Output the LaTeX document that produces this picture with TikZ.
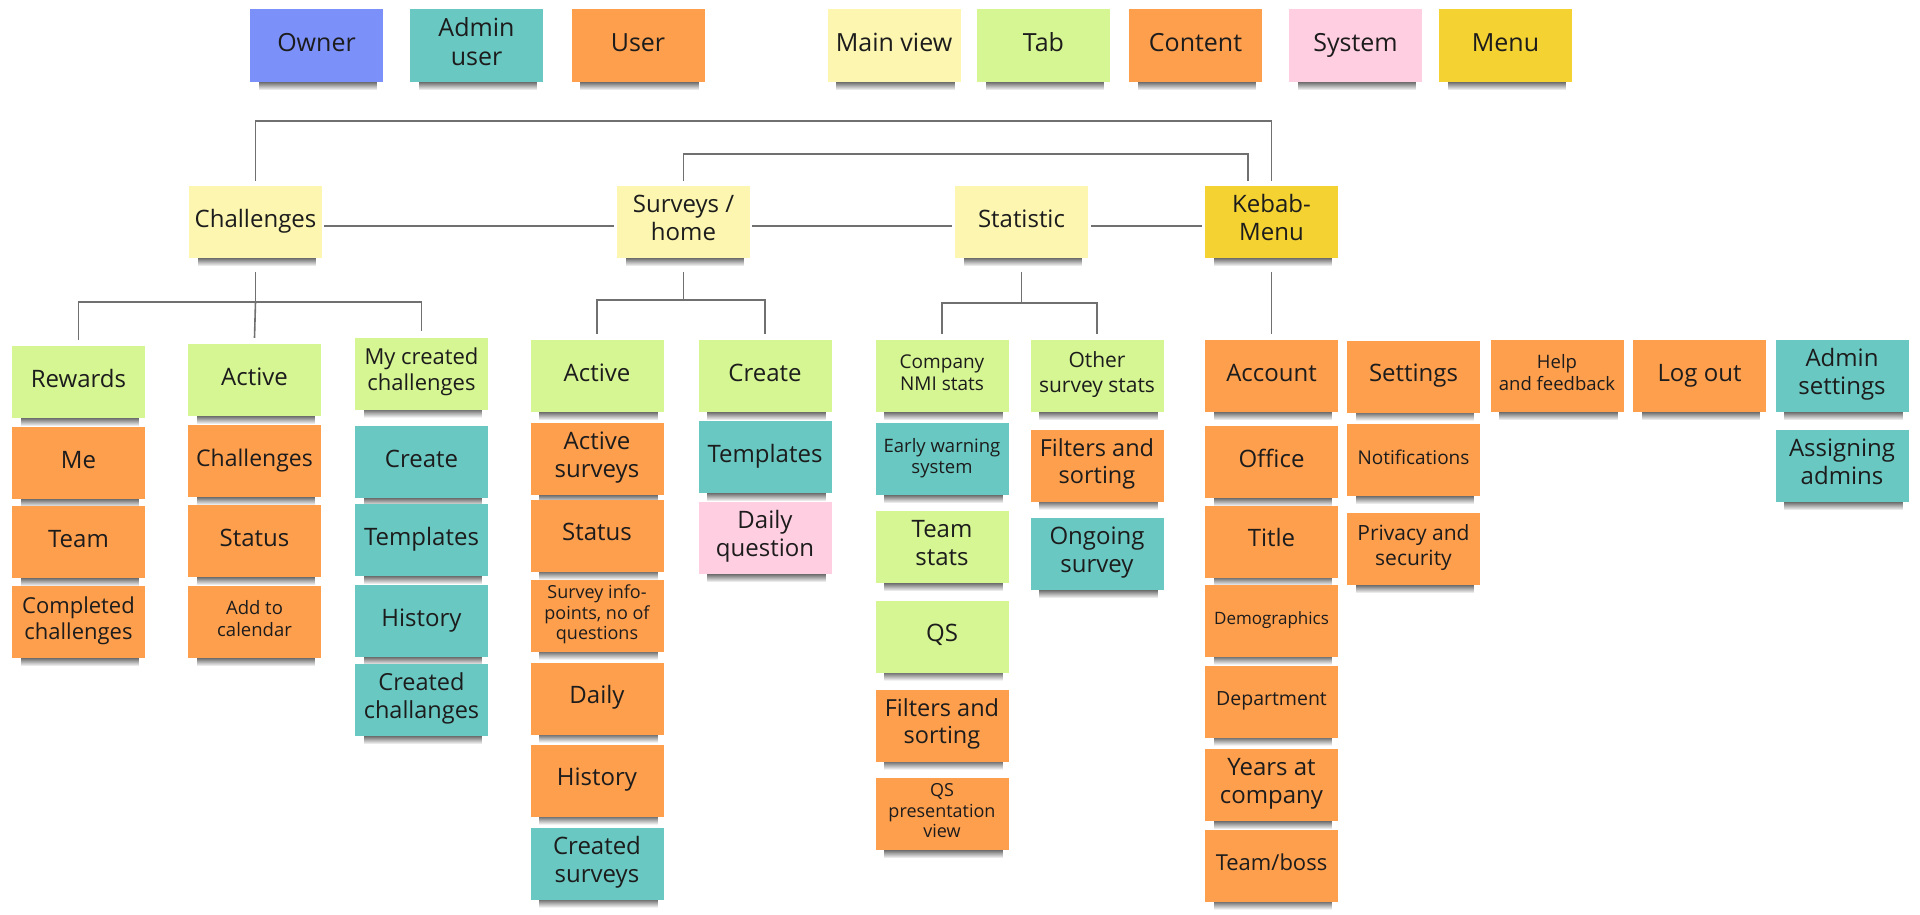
\documentclass[tikz,border=0pt]{standalone}
\usepackage{fontspec}
\setmainfont{Open Sans}
\usetikzlibrary{fadings,backgrounds}
\definecolor{cOrange}{HTML}{FE9F4E}
\definecolor{cTeal}{HTML}{6AC8C2}
\definecolor{cGreen}{HTML}{D6F593}
\definecolor{cMain}{HTML}{FCF6B1}
\definecolor{cMenu}{HTML}{F4D232}
\definecolor{cPink}{HTML}{FFCEE0}
\definecolor{cBlue}{HTML}{7C90FA}
\definecolor{cLine}{HTML}{707070}
\definecolor{cText}{HTML}{1C1C1C}
\tikzfading[name=shfade, top color=transparent!30, bottom color=transparent!100]
\tikzset{
  note/.style={rectangle, minimum width=133pt, minimum height=72pt, inner sep=1pt,
    align=center, font=\fontsize{24}{28}\selectfont, text=cText,
    execute at begin node={\rule{0pt}{0.8em}},
    execute at end node={\rule[-0.36em]{0pt}{0pt}}},
  fs/.style 2 args={font=\fontsize{#1}{#2}\selectfont},
  ncontent/.style={note, fill=cOrange},
  nadmin/.style={note, fill=cTeal},
  ntab/.style={note, fill=cGreen},
  nmain/.style={note, fill=cMain},
  nmenu/.style={note, fill=cMenu},
  nsys/.style={note, fill=cPink},
  nowner/.style={note, fill=cBlue},
  legend/.style={minimum height=73pt, fs={25}{29}},
  conn/.style={draw=cLine, line width=1.6pt},
}
\begin{document}
\begin{tikzpicture}[x=1pt,y=-1pt]
\useasboundingbox (0,0) rectangle (1920,914);

% ---------- legend ----------
\node[nowner,legend] (lgown) at (316.5,45.5) {Owner};
\node[nadmin,legend] (lgadm) at (476.5,45.5) {Admin\\user};
\node[ncontent,legend] (lgusr) at (638,45.5) {User};
\node[nmain,legend] (lgmain) at (894,45.5) {Main view};
\node[ntab,legend] (lgtab) at (1043.5,45.5) {Tab};
\node[ncontent,legend] (lgcont) at (1195.5,45.5) {Content};
\node[nsys,legend] (lgsys) at (1355.5,45.5) {System};
\node[nmenu,legend] (lgmenu) at (1505.5,45.5) {Menu};

% ---------- main level ----------
\node[nmain] (ch) at (255.5,222) {Challenges};
\node[nmain] (sv) at (683.5,222) {Surveys /\\home};
\node[nmain] (st) at (1021.5,222) {Statistic};
\node[nmenu] (kb) at (1271.5,222) {Kebab-\\Menu};

% ---------- challenges ----------
\node[ntab] (rw) at (78.5,382) {Rewards};
\node[ncontent] (me) at (78.5,463) {Me};
\node[ncontent] (tm) at (78.5,542) {Team};
\node[ncontent,fs={22}{26}] (cc) at (78.5,622) {Completed\\challenges};
\node[ntab] (ca) at (254.5,380) {Active};
\node[ncontent,fs={23}{27}] (cac) at (254.5,461) {Challenges};
\node[ncontent] (cas) at (254.5,541) {Status};
\node[ncontent,fs={18.5}{21.5}] (cal) at (254.5,622) {Add to\\calendar};
\node[ntab,fs={22}{26}] (mc) at (421.5,373.5) {My created\\challenges};
\node[nadmin] (mcc) at (421.5,462) {Create};
\node[nadmin] (mct) at (421.5,540) {Templates};
\node[nadmin] (mch) at (421.5,621) {History};
\node[nadmin,fs={23.5}{27.5}] (mcd) at (421.5,700) {Created\\challanges};

% ---------- surveys ----------
\node[ntab] (sa) at (597,376) {Active};
\node[ncontent] (sas) at (597,459) {Active\\surveys};
\node[ncontent] (sst) at (597,535.5) {Status};
\node[ncontent,fs={18}{20.5}] (sin) at (597,615.5) {Survey info-\\points, no of\\questions};
\node[ncontent] (sdl) at (597,698.5) {Daily};
\node[ncontent] (shi) at (597,780.5) {History};
\node[nadmin] (scs) at (597,863.5) {Created\\surveys};
\node[ntab] (scr) at (765,376) {Create};
\node[nadmin] (stp) at (765,457) {Templates};
\node[nsys] (sdq) at (765,538) {Daily\\question};

% ---------- statistic ----------
\node[ntab,fs={19}{21.5}] (tnmi) at (942,376) {Company\\NMI stats};
\node[nadmin,fs={18.5}{21}] (tew) at (942,459) {Early warning\\system};
\node[ntab] (tts) at (942,547) {Team\\stats};
\node[ntab] (tqs) at (942,636.5) {QS};
\node[ncontent,fs={23.5}{27}] (tfs) at (942,725.5) {Filters and\\sorting};
\node[ncontent,fs={18}{20.5}] (tqp) at (942,814) {QS\\presentation\\view};
\node[ntab,fs={21}{24.5}] (tos) at (1097,376) {Other\\survey stats};
\node[ncontent,fs={23.5}{27}] (tof) at (1097,465.5) {Filters and\\sorting};
\node[nadmin] (tog) at (1097,554) {Ongoing\\survey};

% ---------- kebab menu ----------
\node[ncontent] (ac) at (1271.5,376) {Account};
\node[ncontent] (of) at (1271.5,462) {Office};
\node[ncontent] (ti) at (1271.5,541.5) {Title};
\node[ncontent,fs={17}{20}] (dm) at (1271.5,620.5) {Demographics};
\node[ncontent,fs={19.5}{23}] (dp) at (1271.5,701.5) {Department};
\node[ncontent] (yc) at (1271.5,785) {Years at\\company};
\node[ncontent,fs={22}{26}] (tb) at (1271.5,865.5) {Team/boss};
\node[ncontent] (se) at (1413.5,376.5) {Settings};
\node[ncontent,fs={19}{22}] (nt) at (1413.5,460) {Notifications};
\node[ncontent,fs={21}{24.5}] (pv) at (1413.5,549) {Privacy and\\security};
\node[ncontent,fs={18.5}{21.5}] (hf) at (1557,376) {Help\\and feedback};
\node[ncontent] (lo) at (1699.5,376) {Log out};
\node[nadmin] (as) at (1842,376) {Admin\\settings};
\node[nadmin] (aa) at (1842,466) {Assigning\\admins};

% ---------- connectors: main level ----------
\draw[conn] ([yshift=-4pt,xshift=2pt]ch.east) -- ([yshift=-4pt,xshift=-3pt]sv.west);
\draw[conn] ([yshift=-4pt,xshift=2pt]sv.east) -- ([yshift=-4pt,xshift=-3pt]st.west);
\draw[conn] ([yshift=-4pt,xshift=3pt]st.east) -- ([yshift=-4pt,xshift=-3pt]kb.west);
\coordinate (topA) at (0,121);
\coordinate (topB) at (0,154);
\draw[conn] ([yshift=5pt]ch.north) -- (ch.north |- topA) -| ([yshift=5pt]kb.north);
\draw[conn] ([yshift=5pt]sv.north) -- (sv.north |- topB) -| ([xshift=-23.5pt,yshift=5pt]kb.north);

% ---------- connectors: children ----------
\coordinate (chb) at (255.5,302);
\draw[conn] ([yshift=-14pt]ch.south) -- (chb);
\draw[conn] ([yshift=6pt]rw.north) -- (rw.north |- chb) -- (mc.north |- chb) -- ([yshift=6pt]mc.north);
\draw[conn] (chb) -- ([yshift=6pt]ca.north);

\coordinate (svb) at (683.5,300);
\draw[conn] ([yshift=-14pt]sv.south) -- (svb);
\draw[conn] ([yshift=6pt]sa.north) -- (sa.north |- svb) -- (scr.north |- svb) -- ([yshift=6pt]scr.north);

\coordinate (stb) at (1021.5,303);
\draw[conn] ([yshift=-14pt]st.south) -- (stb);
\draw[conn] ([yshift=6pt]tnmi.north) -- (tnmi.north |- stb) -- (tos.north |- stb) -- ([yshift=6pt]tos.north);

\draw[conn] ([yshift=-14pt]kb.south) -- ([yshift=6pt]ac.north);

% ---------- background and shadows ----------
\begin{scope}[on background layer]
\fill[white] (0,0) rectangle (1920,914);
\foreach \n in {lgown,lgadm,lgusr,lgmain,lgtab,lgcont,lgsys,lgmenu,ch,sv,st,kb,
  rw,me,tm,cc,ca,cac,cas,cal,mc,mcc,mct,mch,mcd,
  sa,sas,sst,sin,sdl,shi,scs,scr,stp,sdq,
  tnmi,tew,tts,tqs,tfs,tqp,tos,tof,tog,
  ac,of,ti,dm,dp,yc,tb,se,nt,pv,hf,lo,as,aa}{
  \fill[black, path fading=shfade] ([xshift=9pt,yshift=2pt]\n.south west) rectangle ([xshift=-6pt,yshift=-8pt]\n.south east);
}
\end{scope}
\end{tikzpicture}
\end{document}
